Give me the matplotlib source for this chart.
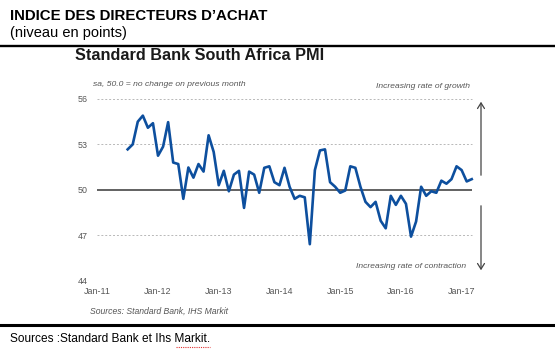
import numpy as np
import matplotlib
matplotlib.use("Agg")
import matplotlib.pyplot as plt

plt.rcParams['font.family'] = ['Liberation Sans', 'DejaVu Sans']

# PMI values, monthly (Jul-11 onwards)
pmi = [52.67, 53.0, 54.5, 54.9, 54.1, 54.4, 52.25, 52.85, 54.47, 51.8,
       51.7, 49.4, 51.47, 50.8, 51.7, 51.2, 53.6, 52.5, 50.3, 51.25,
       49.9, 51.0, 51.25, 48.8, 51.2, 51.0, 49.8, 51.45, 51.55, 50.5,
       50.3, 51.45, 50.2, 49.4, 49.6, 49.5, 46.4, 51.3, 52.6, 52.67,
       50.5, 50.2, 49.8, 49.95, 51.55, 51.45, 50.2, 49.2, 48.85, 49.2,
       47.95, 47.45, 49.6, 49.0, 49.6, 49.07, 46.9, 47.9, 50.2, 49.6,
       49.9, 49.8, 50.6, 50.4, 50.7, 51.55, 51.3, 50.55, 50.7]
year_labels = ['Jan-11', 'Jan-12', 'Jan-13', 'Jan-14', 'Jan-15', 'Jan-16', 'Jan-17']
y_ticks = [44, 47, 50, 53, 56]

W, H = 555, 352
fig = plt.figure(figsize=(W / 100, H / 100), dpi=100)

def fy(y):
    return 1 - y / H

# plot area in pixels
left, right, top, bottom = 89.2, 476.8, 99.0, 280.5
ax = fig.add_axes([left / W, fy(bottom), (right - left) / W, (bottom - top) / H])

x = np.arange(len(pmi))
ax.set_xlim(-7.6, 69)
ax.set_ylim(44, 56)

grid_col = '#b8b8b8'
for v in y_ticks:
    if v != 50:
        ax.hlines(v, -6.07, 68.1, colors=grid_col, linestyles=(0, (2, 2)), linewidth=0.7)
ax.hlines(50, -6.07, 68.1, colors='#555555', linewidth=1.3)
ax.plot(x, pmi, color='#0d4f9e', linewidth=1.9, solid_joinstyle='round')

for s in ax.spines.values():
    s.set_visible(False)
ax.set_yticks(y_ticks)
ax.set_yticklabels([str(v) for v in y_ticks])
# Jan of each year: first point is Jul-11
ax.set_xticks([-6 + 12 * k for k in range(len(year_labels))])
ax.set_xticklabels(year_labels)
ax.tick_params(axis='both', length=0, labelsize=6.4, colors='#555555')
ax.tick_params(axis='y', pad=1)
ax.tick_params(axis='x', pad=5)

# arrows on the right
fig.add_artist(matplotlib.patches.FancyArrowPatch(
    (481 / W, fy(178)), (481 / W, fy(99)), transform=fig.transFigure,
    arrowstyle='->,head_length=4,head_width=2.5', color='#444444', linewidth=0.9))
fig.add_artist(matplotlib.patches.FancyArrowPatch(
    (481 / W, fy(203)), (481 / W, fy(273)), transform=fig.transFigure,
    arrowstyle='->,head_length=4,head_width=2.5', color='#444444', linewidth=0.9))

# texts
fig.text(10 / W, fy(15.5), "INDICE DES DIRECTEURS D\u2019ACHAT", fontsize=10.8,
         fontweight='bold', va='center', ha='left', color='black')
fig.text(10 / W, fy(32.5), "(niveau en points)", fontsize=10.5, va='center', ha='left')
fig.add_artist(plt.Line2D([0, 1], [fy(45.5), fy(45.5)], color='black', linewidth=1.7))
fig.text(75 / W, fy(55.5), "Standard Bank South Africa PMI", fontsize=11.7,
         fontweight='bold', va='center', ha='left', color='#1a1a1a')
fig.text(93 / W, fy(85), "sa, 50.0 = no change on previous month", fontsize=6.1,
         style='italic', va='center', ha='left', color='#555555')
fig.text(470 / W, fy(86), "Increasing rate of growth", fontsize=6.1,
         style='italic', va='center', ha='right', color='#555555')
fig.text(466 / W, fy(267), "Increasing rate of contraction", fontsize=6.1,
         style='italic', va='center', ha='right', color='#555555')
fig.text(90 / W, fy(311), "Sources: Standard Bank, IHS Markit", fontsize=6.2,
         style='italic', va='center', ha='left', color='#555555')
fig.add_artist(plt.Line2D([0, 1], [fy(324.5), fy(324.5)], color='black', linewidth=2.2))
fig.text(10 / W, fy(338.5), "Sources :Standard Bank et Ihs Markit.", fontsize=8.6,
         va='center', ha='left', color='black')
# spell-check underline under "Markit"
fig.add_artist(plt.Line2D([176 / W, 210 / W], [fy(346.5), fy(346.5)], color='#e03030',
                          linewidth=0.8, linestyle=(0, (1, 1))))

fig.savefig('out.png', dpi=100)
